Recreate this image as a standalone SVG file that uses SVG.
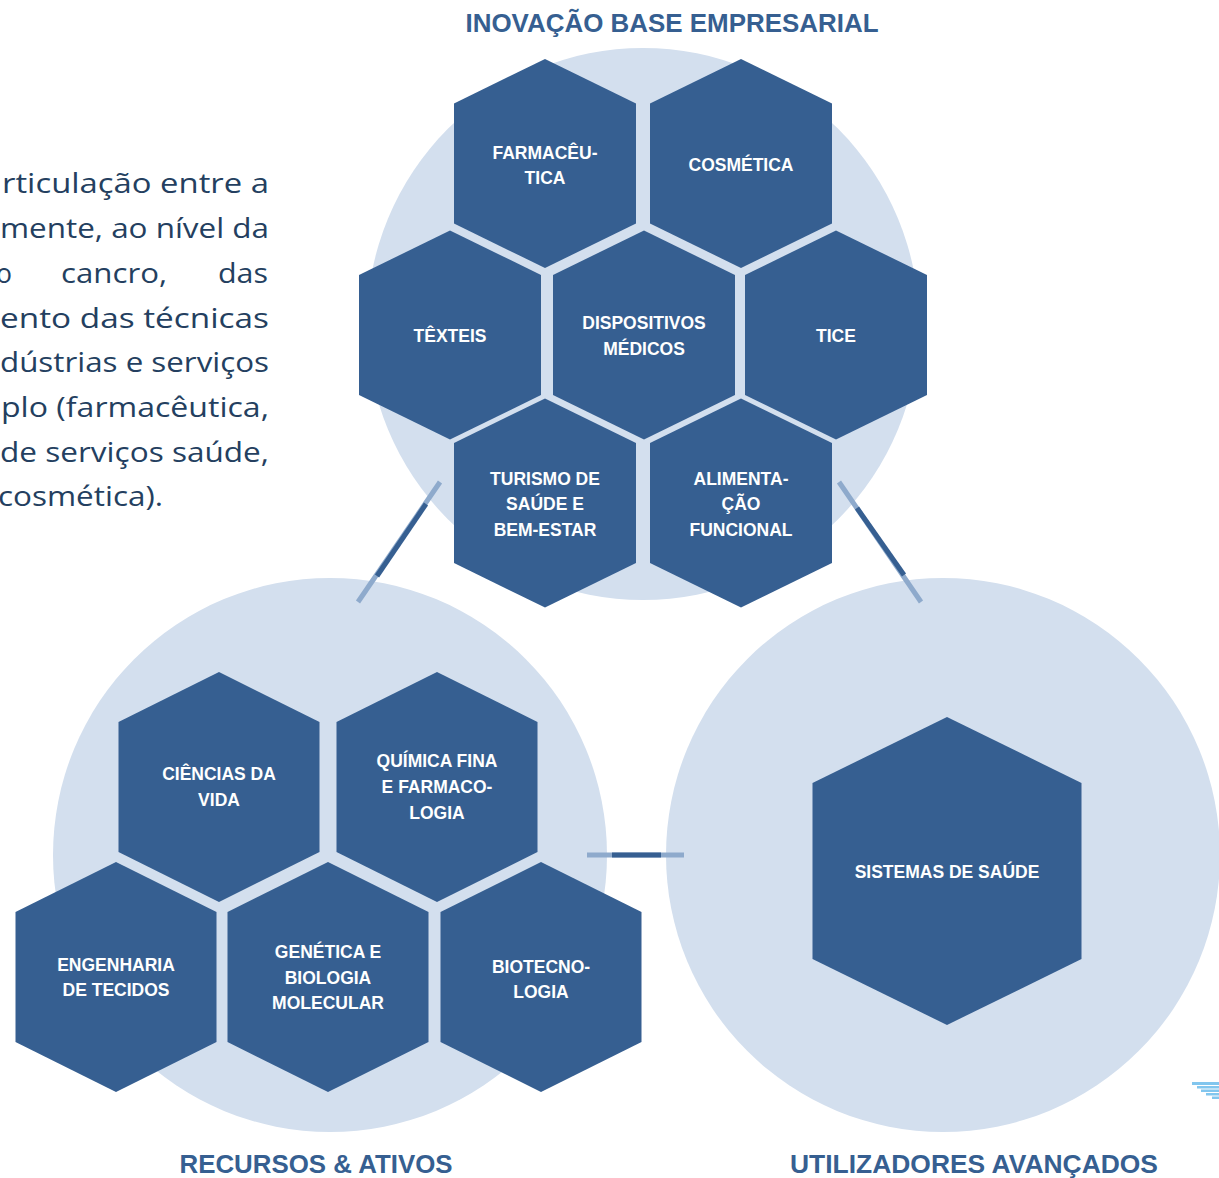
<svg xmlns="http://www.w3.org/2000/svg" width="1219" height="1178" viewBox="0 0 1219 1178">
  <style>
    .disc { fill: #d3dfee; }
    .hex { fill: #365f91; }
    .lbl { font-family: "Liberation Sans", Arial, sans-serif; font-weight: bold; font-size: 17.5px; fill: #ffffff; text-anchor: middle; }
    .title { font-family: "Liberation Sans", Arial, sans-serif; font-weight: bold; font-size: 25.5px; fill: #365f91; text-anchor: middle; }
    .para { font-family: "Open Sans", "Liberation Sans", sans-serif; font-size: 27px; fill: #243f60; }
    .link-light { stroke: #8eaacc; stroke-width: 5; fill: none; }
    .link-dark { stroke: #365f91; stroke-width: 5; fill: none; }
  </style>
  <defs>
    <!-- hexagon sizes: small (top cluster), medium (left cluster), large (right cluster) -->
    <polygon id="hexS" points="0,-104.5 91,-60 91,60 0,104.5 -91,60 -91,-60"/>
    <polygon id="hexM" points="0,-115 100.5,-65 100.5,65 0,115 -100.5,65 -100.5,-65"/>
    <polygon id="hexL" points="0,-154 134.5,-88 134.5,88 0,154 -134.5,88 -134.5,-88"/>
  </defs>

  <rect width="1219" height="1178" fill="#ffffff"/>

  <!-- justified paragraph, cut at the left edge -->
  <g id="paragraph" class="para">
    <text x="2" y="193" textLength="267" lengthAdjust="spacingAndGlyphs">rticulação entre a</text>
    <text x="0" y="238" textLength="269" lengthAdjust="spacingAndGlyphs">mente, ao nível da</text>
    <text x="-4" y="283" textLength="16" lengthAdjust="spacingAndGlyphs">o</text>
    <text x="61" y="283" textLength="106" lengthAdjust="spacingAndGlyphs">cancro,</text>
    <text x="218" y="283" textLength="50" lengthAdjust="spacingAndGlyphs">das</text>
    <text x="0" y="328" textLength="269" lengthAdjust="spacingAndGlyphs">ento das técnicas</text>
    <text x="0" y="372" textLength="269" lengthAdjust="spacingAndGlyphs">dústrias e serviços</text>
    <text x="1" y="417" textLength="268" lengthAdjust="spacingAndGlyphs">plo (farmacêutica,</text>
    <text x="0" y="462" textLength="269" lengthAdjust="spacingAndGlyphs">de serviços saúde,</text>
    <text x="-2" y="506" textLength="165" lengthAdjust="spacingAndGlyphs">cosmética).</text>
  </g>

  <!-- cluster backgrounds -->
  <circle id="disc-empresarial" class="disc" cx="643" cy="324" r="276"/>
  <circle id="disc-recursos" class="disc" cx="330" cy="855" r="277"/>
  <circle id="disc-utilizadores" class="disc" cx="943" cy="855" r="277"/>

  <!-- connectors between clusters -->
  <g id="connectors">
    <line class="link-light" x1="358" y1="602" x2="440" y2="482"/>
    <line class="link-dark" x1="377" y1="576" x2="426" y2="504"/>
    <line class="link-light" x1="839" y1="482" x2="921" y2="602"/>
    <line class="link-dark" x1="857" y1="508" x2="904" y2="575"/>
    <line class="link-light" x1="587" y1="855" x2="684" y2="855"/>
    <line class="link-dark" x1="612" y1="855" x2="661" y2="855"/>
  </g>

  <!-- cluster titles -->
  <text id="title-empresarial" class="title" x="672" y="32" textLength="413" lengthAdjust="spacingAndGlyphs">INOVAÇÃO BASE EMPRESARIAL</text>
  <text id="title-recursos" class="title" x="316" y="1173" textLength="273" lengthAdjust="spacingAndGlyphs">RECURSOS &amp; ATIVOS</text>
  <text id="title-utilizadores" class="title" x="974" y="1173" textLength="368" lengthAdjust="spacingAndGlyphs">UTILIZADORES AVANÇADOS</text>

  <!-- INOVAÇÃO BASE EMPRESARIAL -->
  <g id="farmaceutica" transform="translate(545,163.5)">
    <use href="#hexS" class="hex"/>
    <text class="lbl" y="-5">FARMACÊU-</text>
    <text class="lbl" y="20">TICA</text>
  </g>
  <g id="cosmetica" transform="translate(741,163.5)">
    <use href="#hexS" class="hex"/>
    <text class="lbl" y="7">COSMÉTICA</text>
  </g>
  <g id="texteis" transform="translate(450,335)">
    <use href="#hexS" class="hex"/>
    <text class="lbl" y="7">TÊXTEIS</text>
  </g>
  <g id="dispositivos-medicos" transform="translate(644,335)">
    <use href="#hexS" class="hex"/>
    <text class="lbl" y="-6">DISPOSITIVOS</text>
    <text class="lbl" y="20">MÉDICOS</text>
  </g>
  <g id="tice" transform="translate(836,335)">
    <use href="#hexS" class="hex"/>
    <text class="lbl" y="7">TICE</text>
  </g>
  <g id="turismo" transform="translate(545,503)">
    <use href="#hexS" class="hex"/>
    <text class="lbl" y="-18">TURISMO DE</text>
    <text class="lbl" y="7">SAÚDE E</text>
    <text class="lbl" y="33">BEM-ESTAR</text>
  </g>
  <g id="alimentacao" transform="translate(741,503)">
    <use href="#hexS" class="hex"/>
    <text class="lbl" y="-18">ALIMENTA-</text>
    <text class="lbl" y="7">ÇÃO</text>
    <text class="lbl" y="33">FUNCIONAL</text>
  </g>

  <!-- RECURSOS & ATIVOS -->
  <g id="ciencias-vida" transform="translate(219,787)">
    <use href="#hexM" class="hex"/>
    <text class="lbl" y="-7">CIÊNCIAS DA</text>
    <text class="lbl" y="19">VIDA</text>
  </g>
  <g id="quimica-fina" transform="translate(437,787)">
    <use href="#hexM" class="hex"/>
    <text class="lbl" y="-20">QUÍMICA FINA</text>
    <text class="lbl" y="6">E FARMACO-</text>
    <text class="lbl" y="32">LOGIA</text>
  </g>
  <g id="engenharia-tecidos" transform="translate(116,977)">
    <use href="#hexM" class="hex"/>
    <text class="lbl" y="-6">ENGENHARIA</text>
    <text class="lbl" y="19">DE TECIDOS</text>
  </g>
  <g id="genetica" transform="translate(328,977)">
    <use href="#hexM" class="hex"/>
    <text class="lbl" y="-19">GENÉTICA E</text>
    <text class="lbl" y="7">BIOLOGIA</text>
    <text class="lbl" y="32">MOLECULAR</text>
  </g>
  <g id="biotecnologia" transform="translate(541,977)">
    <use href="#hexM" class="hex"/>
    <text class="lbl" y="-4">BIOTECNO-</text>
    <text class="lbl" y="21">LOGIA</text>
  </g>

  <!-- UTILIZADORES AVANÇADOS -->
  <g id="sistemas-saude" transform="translate(947,871)">
    <use href="#hexL" class="hex"/>
    <text class="lbl" y="7">SISTEMAS DE SAÚDE</text>
  </g>

  <!-- fragment of a stepped mark at the lower right edge -->
  <g id="corner-mark" fill="#82c6ee">
    <rect x="1192" y="1082" width="27" height="3"/>
    <rect x="1197" y="1086" width="22" height="2.5"/>
    <rect x="1201" y="1089.5" width="18" height="2.5"/>
    <rect x="1206" y="1093" width="13" height="2.5"/>
    <rect x="1212" y="1096.5" width="7" height="2.5"/>
  </g>
</svg>
